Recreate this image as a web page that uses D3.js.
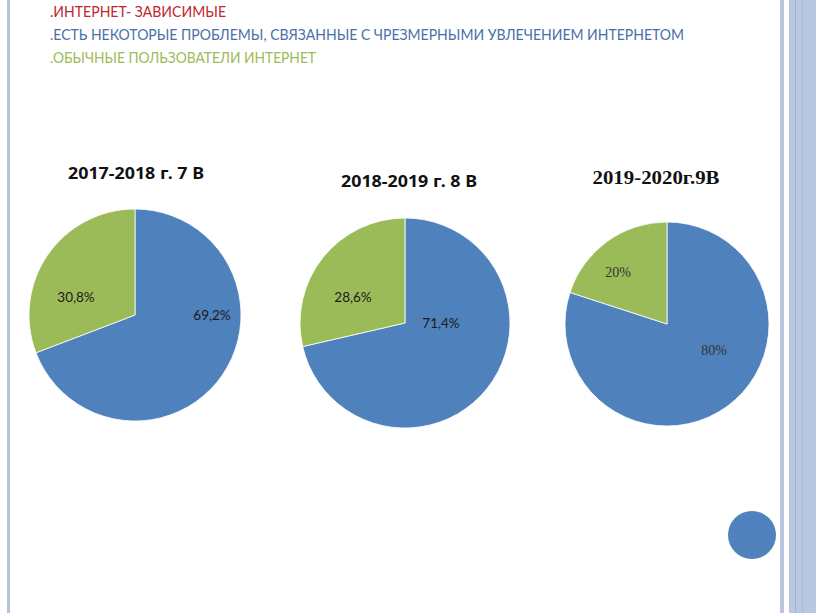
<html>
<head>
  <script src="https://cdn.jsdelivr.net/npm/d3@7"></script>
  <style>
  body { margin: 0; background: #fff; }
  svg { display: block; }
  .ttl-sans { font-family: "Noto Sans", "DejaVu Sans", sans-serif; font-weight: 700; font-size: 16px; }
  .ttl-serif { font-family: "Liberation Serif", serif; font-weight: 700; font-size: 19px; }
  </style>
</head>
<body>
  <svg id="slide" width="816" height="613"></svg>
  <script>

// legend lines at the top
var legendLines = [".ИНТЕРНЕТ- ЗАВИСИМЫЕ",
  ".ЕСТЬ НЕКОТОРЫЕ ПРОБЛЕМЫ, СВЯЗАННЫЕ С ЧРЕЗМЕРНЫМИ УВЛЕЧЕНИЕМ ИНТЕРНЕТОМ",
  ".ОБЫЧНЫЕ ПОЛЬЗОВАТЕЛИ ИНТЕРНЕТ"];
var legendColors = ["#c0262c", "#4a6fa8", "#9bbb59"];

// one pie per school year
var titles = ["2017-2018 г. 7 В", "2018-2019 г. 8 В", "2019-2020г.9В"];
var problemShare = [69.2, 71.4, 80];   // blue slice
var normalShare = [30.8, 28.6, 20];    // green slice
var labelsBlue = ["69,2%", "71,4%", "80%"];
var labelsGreen = ["30,8%", "28,6%", "20%"];

var sliceColors = ["#4f81bd", "#9bbb59"];

var svg = d3.select("#slide");

// frame stripes
svg.append("rect").attr("x", 7).attr("y", 0).attr("width", 3).attr("height", 613).attr("fill", "#b7c3dd");
svg.append("rect").attr("x", 780).attr("y", 0).attr("width", 4).attr("height", 613).attr("fill", "#b9c5df");
svg.append("rect").attr("x", 789).attr("y", 0).attr("width", 27).attr("height", 613).attr("fill", "#bac7e0");
svg.append("rect").attr("x", 795).attr("y", 0).attr("width", 1).attr("height", 613).attr("fill", "#9fb0d2");
svg.append("rect").attr("x", 802).attr("y", 0).attr("width", 1).attr("height", 613).attr("fill", "#aab9d8");

var lineWidths = [176, 634, 266];
svg.selectAll("text.legend")
  .data(legendLines)
  .enter().append("text")
  .attr("class", "legend")
  .attr("x", 50)
  .attr("y", function(d, i) { return 17 + i * 23; })
  .attr("textLength", function(d, i) { return lineWidths[i]; })
  .attr("lengthAdjust", "spacingAndGlyphs")
  .style("font-family", "Lato, sans-serif")
  .style("font-size", "14.5px")
  .style("fill", function(d, i) { return legendColors[i]; })
  .text(function(d) { return d; });

var pieLayout = [
  {cx: 135, cy: 315, r: 106, tx: 136, ty: 179, tw: 136, serif: false},
  {cx: 405, cy: 323, r: 105, tx: 409, ty: 187, tw: 136, serif: false},
  {cx: 667, cy: 324, r: 102, tx: 656, ty: 184, tw: 127, serif: true}
];
// label offsets from the pie centre
var labelPos = [
  {blue: [77, 0], green: [-59, -18]},
  {blue: [36, 0], green: [-52, -26]},
  {blue: [47, 26], green: [-49, -52]}
];

var pie = d3.pie().sort(null).value(function(d) { return d.v; });
var color = d3.scaleOrdinal().domain(["blue", "green"]).range(sliceColors);

titles.forEach(function(t, i) {
  var L = pieLayout[i];
  var font = L.serif ? "'Liberation Serif', serif" : "Lato, sans-serif";
  var data = [{k: "blue", v: problemShare[i], lab: labelsBlue[i]},
              {k: "green", v: normalShare[i], lab: labelsGreen[i]}];
  var arc = d3.arc().innerRadius(0).outerRadius(L.r);
  var g = svg.append("g").attr("transform", "translate(" + L.cx + "," + L.cy + ")");
  var arcs = pie(data);
  g.selectAll("path")
    .data(arcs)
    .enter().append("path")
    .attr("d", arc)
    .attr("fill", function(d) { return color(d.data.k); })
    .attr("stroke", "#fff")
    .attr("stroke-width", 0.8);

  g.selectAll("text")
    .data(arcs)
    .enter().append("text")
    .attr("x", function(d) { return labelPos[i][d.data.k][0]; })
    .attr("y", function(d) { return labelPos[i][d.data.k][1]; })
    .attr("dy", "0.35em")
    .attr("text-anchor", "middle")
    .style("font-family", font)
    .style("font-size", L.serif ? "14px" : "13.5px")
    .style("fill", L.serif ? "#333" : "#1a1a1a")
    .text(function(d) { return d.data.lab; });

  svg.append("text")
    .attr("class", L.serif ? "ttl-serif" : "ttl-sans")
    .attr("x", L.tx - L.tw / 2)
    .attr("y", L.ty)
    .attr("textLength", L.tw)
    .attr("lengthAdjust", "spacingAndGlyphs")
    .attr("fill", "#111")
    .text(t);
});

// button circle bottom right
svg.append("circle").attr("cx", 752).attr("cy", 535).attr("r", 24).attr("fill", "#4f81bd");

  </script>
</body>
</html>
